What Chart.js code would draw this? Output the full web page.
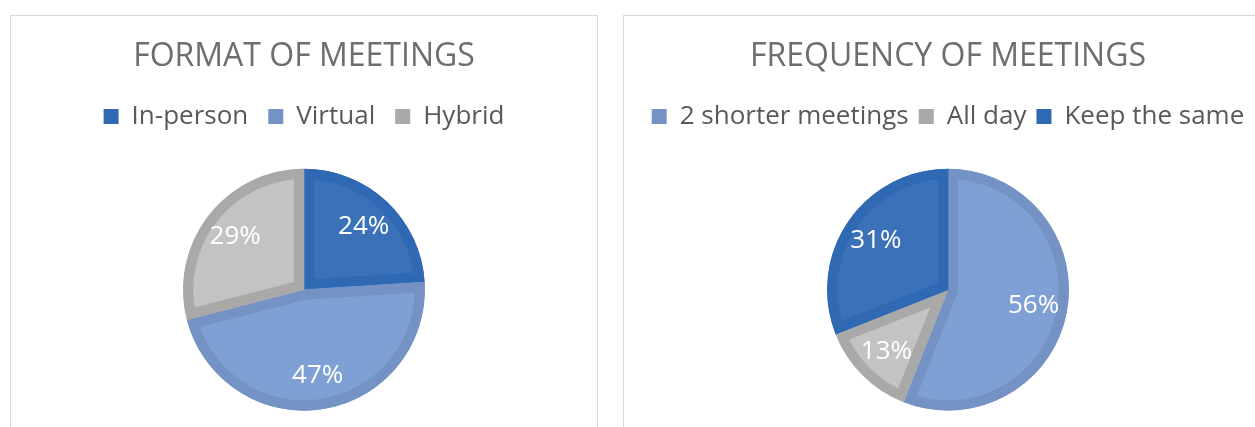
<!DOCTYPE html>
<html>
<head>
<meta charset="utf-8">
<script src="https://cdn.jsdelivr.net/npm/chart.js"></script>
<style>
  body { margin: 0; background: #fff; width: 1255px; height: 427px; overflow: hidden; position: relative; }
  .panel { position: absolute; top: 15px; height: 440px; border: 1px solid #d9d9d9; background: #fff; }
  #left { left: 10px; width: 586px; }
  #right { left: 623px; width: 648px; }
  canvas { position: absolute; left: 0; top: 0; }
</style>
</head>
<body>
<div class="panel" id="left"><canvas id="formatChart" width="586" height="428"></canvas></div>
<div class="panel" id="right"><canvas id="freqChart" width="648" height="428"></canvas></div>
<script>
var formatLabels = ["In-person", "Virtual", "Hybrid"];
var formatValues = [24, 47, 29];
var formatFill = ['#3a71b9', '#7ea0d4', '#c4c3c2'];
var formatEdge = ['#2f68b3', '#7492c3', '#a9a9a9'];

var freqLabels = ["2 shorter meetings", "All day", "Keep the same"];
var freqValues = [56, 13, 31];
var freqFill = ['#7ea0d4', '#c4c3c2', '#3a71b9'];
var freqEdge = ['#7492c3', '#a9a9a9', '#2f68b3'];

var FONT = "'Open Sans', 'Noto Sans', sans-serif";

// percent labels inside each slice
var sliceLabels = {
    id: 'sliceLabels',
    afterDatasetsDraw: function(chart) {
        var ctx = chart.ctx;
        var meta = chart.getDatasetMeta(0);
        var values = chart.data.datasets[0].data;
        ctx.save();
        ctx.fillStyle = '#ffffff';
        ctx.font = '26px ' + FONT;
        ctx.textAlign = 'center';
        ctx.textBaseline = 'middle';
        meta.data.forEach(function(arc, i) {
            var p = arc.getProps(['x', 'y', 'startAngle', 'endAngle', 'outerRadius'], true);
            var mid = (p.startAngle + p.endAngle) / 2;
            var r = p.outerRadius * 0.72;
            ctx.fillText(values[i] + '%', p.x + Math.cos(mid) * r, p.y + Math.sin(mid) * r);
        });
        ctx.restore();
    }
};

function makePie(id, title, labels, values, fill, edge, gap) {
    var ctx = document.getElementById(id).getContext('2d');
    return new Chart(ctx, {
        type: 'pie',
        data: {
            labels: labels,
            datasets: [{
                data: values,
                backgroundColor: fill,
                borderColor: edge,
                borderWidth: 10,
                borderAlign: 'inner'
            }]
        },
        options: {
            responsive: false,
            animation: false,
            events: [],
            radius: 121,
            layout: { padding: { top: 10, bottom: 4 } },
            plugins: {
                title: {
                    display: true,
                    text: title,
                    color: '#6e6e6e',
                    font: { family: FONT, size: 32, weight: 'normal' },
                    padding: { top: 12, bottom: 27 - gap }
                },
                legend: {
                    position: 'top',
                    labels: {
                        color: '#595959',
                        font: { family: FONT, size: 26 },
                        boxWidth: 15,
                        boxHeight: 15,
                        padding: gap,
                        generateLabels: function(chart) {
                            var items = Chart.overrides.pie.plugins.legend.labels.generateLabels(chart);
                            items.forEach(function(it, i) {
                                it.fillStyle = edge[i];
                                it.strokeStyle = edge[i];
                                it.lineWidth = 0;
                            });
                            return items;
                        }
                    }
                },
                tooltip: { enabled: false }
            }
        },
        plugins: [sliceLabels]
    });
}

makePie('formatChart', 'FORMAT OF MEETINGS', formatLabels, formatValues, formatFill, formatEdge, 20);
makePie('freqChart', 'FREQUENCY OF MEETINGS', freqLabels, freqValues, freqFill, freqEdge, 10);
</script>
</body>
</html>
